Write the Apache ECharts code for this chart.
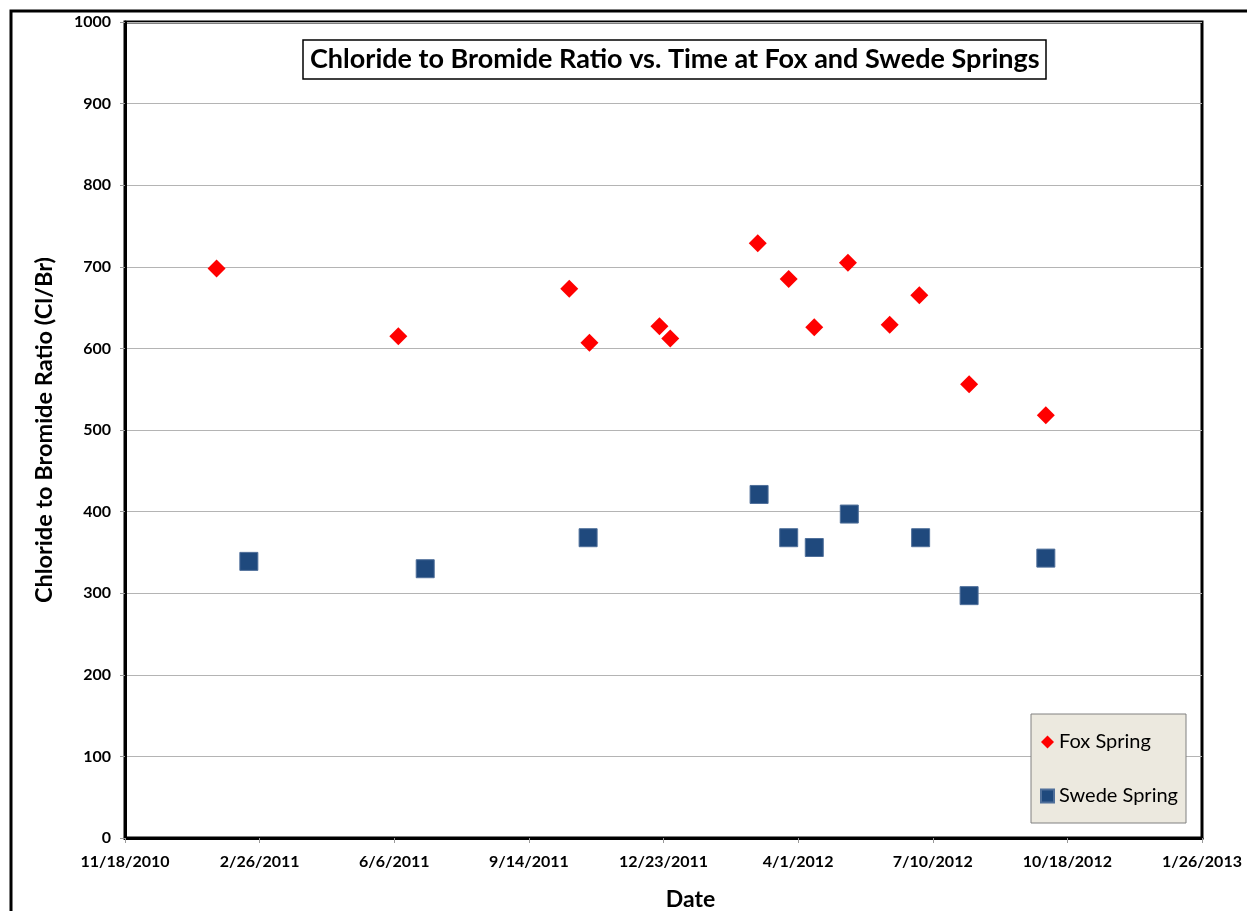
<!DOCTYPE html>
<html>
<head>
<meta charset="utf-8">
<script src="https://cdn.jsdelivr.net/npm/echarts@6/dist/echarts.min.js"></script>
<style>
  html, body { margin: 0; padding: 0; background: #fff; }
  #chart { width: 1247px; height: 911px; }
</style>
</head>
<body>
<div id="chart"></div>
<script>
// sample dates and Cl/Br ratios
const foxDates = ['2011-01-25', '2011-06-09', '2011-10-14', '2011-10-29', '2011-12-20', '2011-12-28',
  '2012-03-02', '2012-03-25', '2012-04-13', '2012-05-08', '2012-06-08', '2012-06-30', '2012-08-06', '2012-10-02']
const foxValues = [698, 615, 673, 607, 627, 612, 729, 685, 626, 705, 629, 665, 556, 518]

const swedeDates = ['2011-02-18', '2011-06-29', '2011-10-28', '2012-03-03', '2012-03-25', '2012-04-13',
  '2012-05-09', '2012-07-01', '2012-08-06', '2012-10-02']
const swedeValues = [339, 330, 368, 421, 368, 356, 397, 368, 297, 343]

// x axis in Excel day serials: 40500 = 11/18/2010, step 100 days
const xMin = 40500
const xMax = 41300
const xStep = 100
const yTicks = [0, 1000, 100]

const EPOCH = Date.UTC(1899, 11, 30)
const DAY = 86400000

function toSerial (s) {
  const p = s.split('-').map(Number)
  return Math.round((Date.UTC(p[0], p[1] - 1, p[2]) - EPOCH) / DAY)
}
function serialLabel (v) {
  const d = new Date(EPOCH + v * DAY)
  return (d.getUTCMonth() + 1) + '/' + d.getUTCDate() + '/' + d.getUTCFullYear()
}

const font = 'Lato, "Open Sans", sans-serif'
const chart = echarts.init(document.getElementById('chart'))

chart.setOption({
  animation: false,
  backgroundColor: '#fff',
  textStyle: { fontFamily: font },
  graphic: [
    {
      type: 'polyline',
      shape: { points: [[11, 911], [11, 11], [1247, 11]] },
      style: { stroke: '#000', lineWidth: 3, fill: null },
      z: 100
    }
  ],
  title: {
    text: 'Chloride to Bromide Ratio vs. Time at Fox and Swede Springs',
    left: 303,
    top: 40,
    padding: [6, 7, 6, 7],
    borderColor: '#000',
    borderWidth: 1.5,
    backgroundColor: '#fff',
    textStyle: { fontSize: 27, fontWeight: 'bold', color: '#000', fontFamily: font }
  },
  grid: {
    left: 125,
    right: 45,
    top: 22,
    bottom: 73,
    outerBoundsMode: 'none',
    containLabel: false,
    show: true,
    borderColor: '#000',
    borderWidth: 3,
    backgroundColor: '#fff'
  },
  legend: {
    orient: 'vertical',
    left: 1031,
    top: 714,
    backgroundColor: '#ECE9DF',
    borderColor: '#808080',
    borderWidth: 1,
    padding: [18, 8, 17, 9],
    itemGap: 34,
    itemWidth: 13,
    itemHeight: 13,
    textStyle: { fontSize: 20, color: '#000', fontFamily: font },
    data: [
      { name: 'Fox Spring', icon: 'diamond' },
      { name: 'Swede Spring', icon: 'rect' }
    ]
  },
  xAxis: {
    type: 'value',
    min: xMin,
    max: xMax,
    interval: xStep,
    name: 'Date',
    nameLocation: 'middle',
    nameGap: 50,
    nameTextStyle: { fontSize: 23, fontWeight: 'bold', color: '#000', padding: [0, 0, 0, 54] },
    axisLine: { show: true, lineStyle: { color: '#000', width: 3 } },
    axisTick: { show: true, length: 5, lineStyle: { color: '#999' } },
    axisLabel: {
      margin: 16,
      fontSize: 16,
      fontWeight: 'bold',
      color: '#000',
      formatter: serialLabel
    },
    splitLine: { show: false }
  },
  yAxis: {
    type: 'value',
    min: yTicks[0],
    max: yTicks[1],
    interval: yTicks[2],
    name: 'Chloride to Bromide Ratio (Cl/Br)',
    nameLocation: 'middle',
    nameGap: 69,
    nameTextStyle: { fontSize: 23.5, fontWeight: 'bold', color: '#000' },
    axisLine: { show: true, lineStyle: { color: '#000', width: 3 } },
    axisTick: { show: true, length: 5, lineStyle: { color: '#999' } },
    axisLabel: {
      margin: 14,
      fontSize: 16,
      fontWeight: 'bold',
      color: '#000',
      formatter: v => String(v)
    },
    splitLine: { show: true, lineStyle: { color: '#b4b4b4', width: 1.2 } }
  },
  series: [
    {
      name: 'Fox Spring',
      type: 'scatter',
      symbol: 'diamond',
      symbolSize: 18,
      itemStyle: { color: '#FF0000', opacity: 1 },
      data: foxDates.map((d, i) => [toSerial(d), foxValues[i]])
    },
    {
      name: 'Swede Spring',
      type: 'scatter',
      symbol: 'rect',
      symbolSize: 18,
      itemStyle: { color: '#1F497D', borderColor: '#4F6F9A', borderWidth: 1, opacity: 1 },
      data: swedeDates.map((d, i) => [toSerial(d), swedeValues[i]])
    }
  ]
})
</script>
</body>
</html>
